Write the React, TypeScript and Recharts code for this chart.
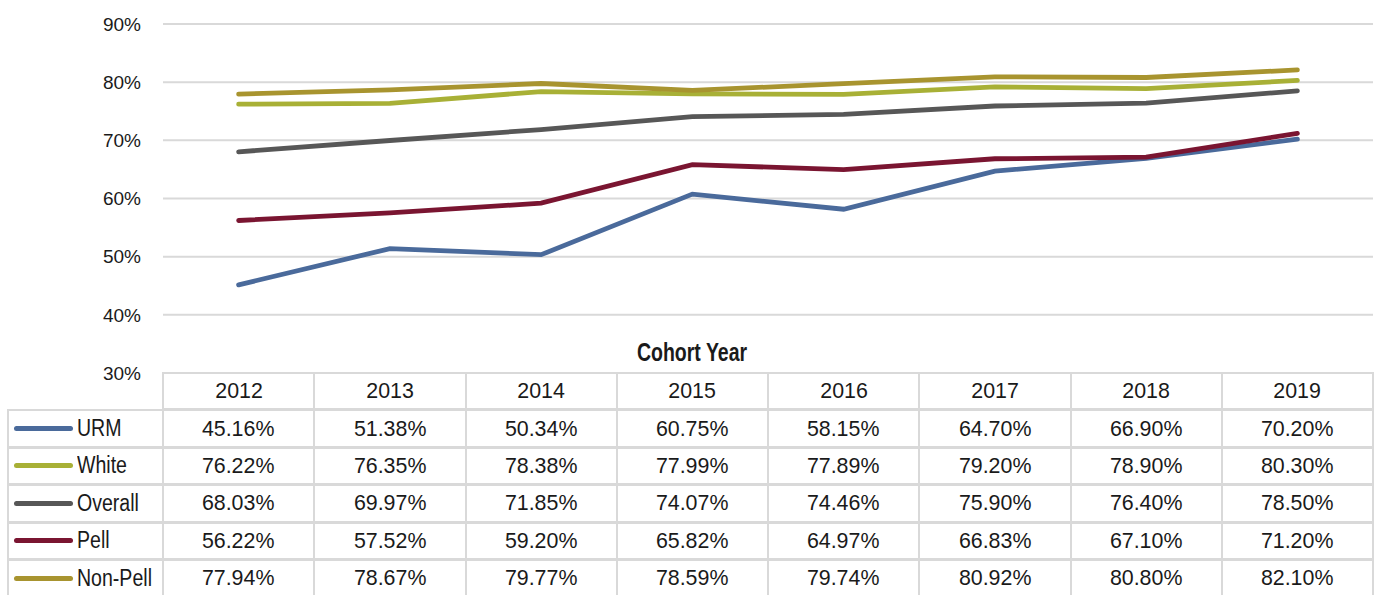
import { CartesianGrid, Line, LineChart, XAxis, YAxis } from "recharts";

const years = ["2012", "2013", "2014", "2015", "2016", "2017", "2018", "2019"];
const urm = [45.16, 51.38, 50.34, 60.75, 58.15, 64.7, 66.9, 70.2];
const white = [76.22, 76.35, 78.38, 77.99, 77.89, 79.2, 78.9, 80.3];
const overall = [68.03, 69.97, 71.85, 74.07, 74.46, 75.9, 76.4, 78.5];
const pell = [56.22, 57.52, 59.2, 65.82, 64.97, 66.83, 67.1, 71.2];
const nonPell = [77.94, 78.67, 79.77, 78.59, 79.74, 80.92, 80.8, 82.1];
const yTicks = [30, 40, 50, 60, 70, 80, 90];

const series = [
  { key: "urm", name: "URM", values: urm, color: "#4a6a9b" },
  { key: "white", name: "White", values: white, color: "#a8b036" },
  { key: "overall", name: "Overall", values: overall, color: "#575757" },
  { key: "pell", name: "Pell", values: pell, color: "#7a1531" },
  { key: "nonPell", name: "Non-Pell", values: nonPell, color: "#a8942f" },
];

const data = years.map((year, i) => {
  const row: Record<string, number | string> = { idx: i, year };
  series.forEach((s) => (row[s.key] = s.values[i]));
  return row;
});

const FONT = "'Liberation Sans', Arial, sans-serif";
const TEXT = "#1a1a1a";
const GRID = "#d9d9d9";
const PLOT_LEFT = 163;
const PLOT_RIGHT = 1373;
const COL_W = (PLOT_RIGHT - PLOT_LEFT) / years.length;
const TABLE_TOP = 373;
const ROW_H = 37.4;

const pct = (v: number) => `${v.toFixed(2)}%`;

// reference font is a condensed face; squeeze Liberation Sans to fit
function Narrow({ children, scale, origin = "center" }: { children: React.ReactNode; scale: number; origin?: string }) {
  return <span style={{ display: "inline-block", transform: `scaleX(${scale})`, transformOrigin: origin, whiteSpace: "nowrap" }}>{children}</span>;
}

function DataTable() {
  const border = `2px solid ${GRID}`;
  const cell = (left: number, top: number, width: number, extra = {}) => ({
    position: "absolute" as const,
    left,
    top,
    width,
    height: ROW_H + 1,
    boxSizing: "border-box" as const,
    border,
    marginLeft: -1,
    marginTop: -1,
    display: "flex",
    alignItems: "center",
    justifyContent: "center",
    fontSize: 22.5,
    color: TEXT,
    ...extra,
  });
  return (
    <>
      {years.map((y, i) => (
        <div key={y} style={cell(PLOT_LEFT + i * COL_W, TABLE_TOP, COL_W + 2)}>
          <Narrow scale={0.95}>{y}</Narrow>
        </div>
      ))}
      {series.map((s, r) => {
        const top = TABLE_TOP + (r + 1) * ROW_H;
        return (
          <div key={s.key}>
            <div style={cell(8, top, PLOT_LEFT - 8 + 2, { justifyContent: "flex-start", fontSize: 23 })}>
              <span style={{ display: "inline-block", width: 59, height: 5, borderRadius: 2.5, background: s.color, marginLeft: 5, marginRight: 4, flex: "none" }} />
              <Narrow scale={0.85} origin="left">{s.name}</Narrow>
            </div>
            {s.values.map((v, i) => (
              <div key={i} style={cell(PLOT_LEFT + i * COL_W, top, COL_W + 2)}>
                <Narrow scale={0.95}>{pct(v)}</Narrow>
              </div>
            ))}
          </div>
        );
      })}
    </>
  );
}

export default function App() {
  return (
    <div style={{ position: "absolute", left: 0, top: 0, width: 1377, height: 595, fontFamily: FONT, background: "#fff", overflow: "hidden" }}>
      <LineChart width={1377} height={595} data={data} margin={{ top: 24, right: 1377 - PLOT_RIGHT, bottom: 595 - TABLE_TOP, left: 0 }}>
        <CartesianGrid vertical={false} stroke={GRID} strokeWidth={2} />
        <XAxis dataKey="idx" type="number" domain={[-0.5, years.length - 0.5]} hide />
        <YAxis
          domain={[30, 90]}
          ticks={yTicks}
          width={PLOT_LEFT}
          axisLine={false}
          tickLine={false}
          tickSize={0}
          tickMargin={22}
          tickFormatter={(v: number) => `${v}%`}
          tick={{ fill: TEXT, fontSize: 19, fontFamily: FONT }}
        />
        {series.map((s) => (
          <Line
            key={s.key}
            dataKey={s.key}
            stroke={s.color}
            strokeWidth={4.8}
            strokeLinecap="round"
            dot={false}
            type="linear"
            isAnimationActive={false}
          />
        ))}
      </LineChart>
      <div style={{ position: "absolute", left: 692, top: 337, transform: "translateX(-50%)", fontSize: 25, fontWeight: "bold", color: TEXT, lineHeight: "30px" }}>
        <Narrow scale={0.78}>Cohort Year</Narrow>
      </div>
      <DataTable />
    </div>
  );
}
